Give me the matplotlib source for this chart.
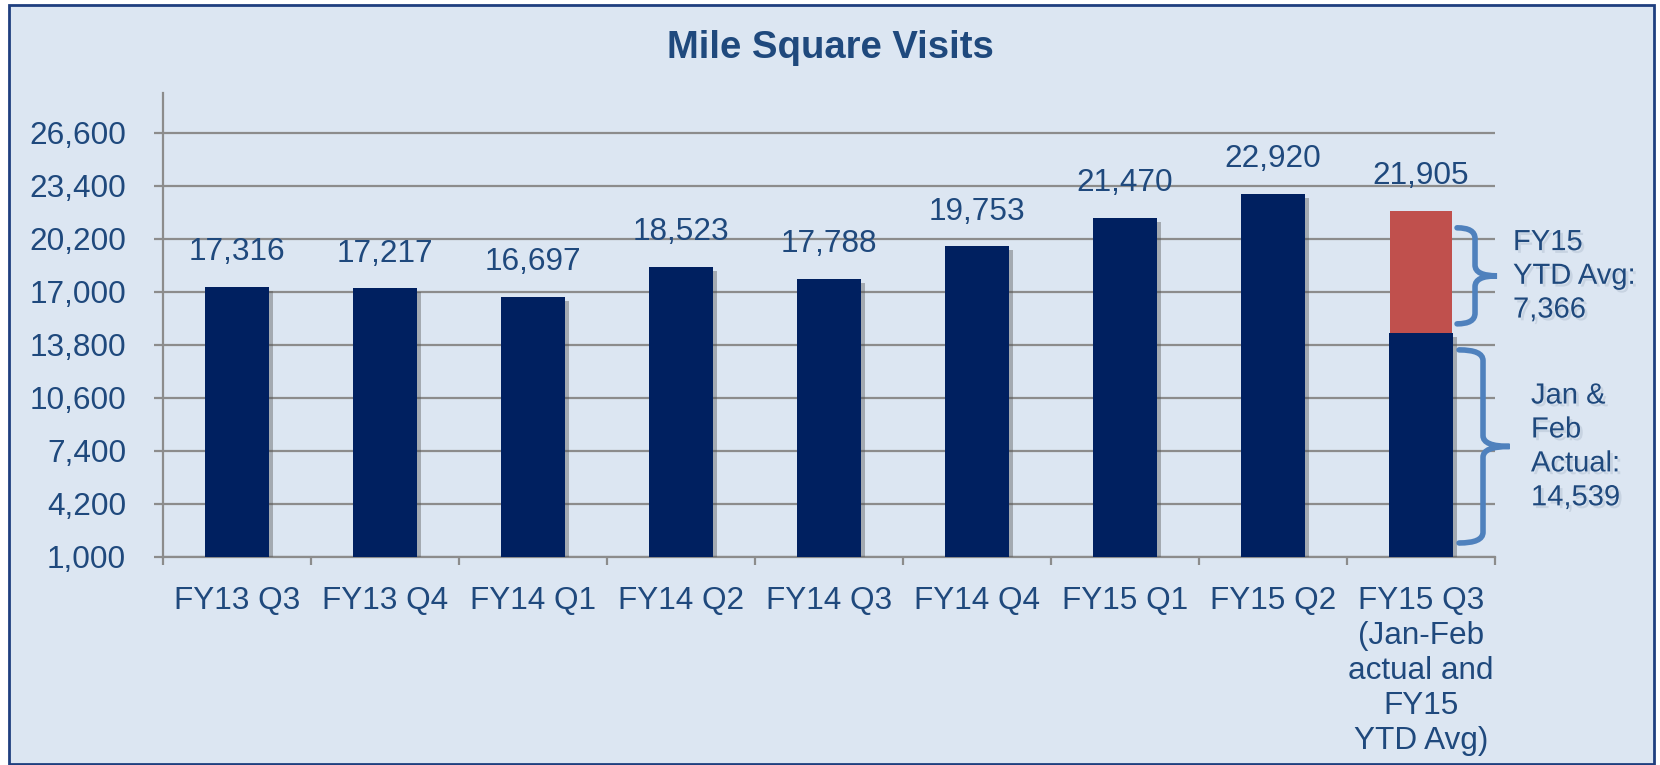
import matplotlib
matplotlib.use('Agg')
import matplotlib.pyplot as plt
import matplotlib.patheffects as pe
from matplotlib.patches import Rectangle, PathPatch
from matplotlib.path import Path
import matplotlib.transforms as mtransforms

plt.rcParams['font.family'] = ['Liberation Sans', 'DejaVu Sans']

categories = ['FY13 Q3', 'FY13 Q4', 'FY14 Q1', 'FY14 Q2', 'FY14 Q3', 'FY14 Q4',
              'FY15 Q1', 'FY15 Q2', 'FY15 Q3\n(Jan-Feb\nactual and\nFY15\nYTD Avg)']
visits = [17316, 17217, 16697, 18523, 17788, 19753, 21470, 22920, 14539]
ytd_avg = [0, 0, 0, 0, 0, 0, 0, 0, 7366]
totals = [17316, 17217, 16697, 18523, 17788, 19753, 21470, 22920, 21905]
yticks = [1000, 4200, 7400, 10600, 13800, 17000, 20200, 23400, 26600]

txt_col = '#1F497D'
navy = '#002060'
red = '#C0504D'
bg = '#DCE6F2'
grid_col = '#8C8C8C'
brace_col = '#4F81BD'

fig = plt.figure(figsize=(16.6, 7.65), dpi=100)
fig.patch.set_facecolor('white')
fig.patches.append(Rectangle((9/1660, 1/765), 1645/1660, 759/765, transform=fig.transFigure,
                             facecolor=bg, edgecolor='#1F3F7F', lw=2, zorder=-10))

ax = fig.add_axes([163/1660, 1-557/765, 1332/1660, 464/765])
ax.set_facecolor('none')

base = 1000
x = list(range(len(categories)))
shadow = [pe.SimplePatchShadow(offset=(3, -3), shadow_rgbFace='#505050', alpha=0.4), pe.Normal()]
b1 = ax.bar(x, [v - base for v in visits], bottom=base, width=0.43, color=navy, zorder=3)
b2 = ax.bar(x, ytd_avg, bottom=visits, width=0.42, color=red, zorder=2.9)
for p in list(b1) + list(b2):
    if p.get_height() > 0:
        p.set_path_effects(shadow)
b2[-1].set_path_effects([])

for xi, t in zip(x, totals):
    ax.annotate(f'{t:,}', (xi, t), xytext=(0, 19), textcoords='offset points',
                ha='center', va='baseline', fontsize=22.7, color=txt_col)

ax.set_xlim(-0.5, len(categories) - 0.5)
ax.set_ylim(1000, 29000)
ax.set_yticks(yticks)
ax.set_yticklabels([f'{v:,}' for v in yticks])
ax.yaxis.grid(True, color=grid_col, lw=1.6, zorder=1)
ax.set_axisbelow(True)

ax.set_xticks(x)
ax.set_xticklabels(categories, linespacing=1.22)
ax.set_xticks([i - 0.5 for i in range(len(categories) + 1)], minor=True)
ax.tick_params(axis='x', which='major', length=0, pad=21, labelsize=22.7, labelcolor=txt_col)
ax.tick_params(axis='x', which='minor', length=6, width=1.6, color=grid_col, direction='out')
ax.tick_params(axis='y', length=6.5, width=1.6, color=grid_col, pad=20, labelsize=22.7,
               labelcolor=txt_col)

for s in ['top', 'right']:
    ax.spines[s].set_visible(False)
for s in ['left', 'bottom']:
    ax.spines[s].set_color(grid_col)
    ax.spines[s].set_linewidth(1.6)

fig.text(0.5, 1-48/765, 'Mile Square Visits', ha='center', va='center',
         fontsize=27.5, fontweight='bold', color=txt_col)

trans = mtransforms.blended_transform_factory(ax.transAxes, ax.transData)


def brace(x0, xm, x1, y_bot, y_top, r=650):
    y_mid = (y_bot + y_top) / 2
    verts = [(x0, y_top), (xm, y_top), (xm, y_top - r),
             (xm, y_mid + r), (xm, y_mid), (x1, y_mid),
             (xm, y_mid), (xm, y_mid - r),
             (xm, y_bot + r), (xm, y_bot), (x0, y_bot)]
    codes = [Path.MOVETO, Path.CURVE3, Path.CURVE3,
             Path.LINETO, Path.CURVE3, Path.CURVE3,
             Path.CURVE3, Path.CURVE3,
             Path.LINETO, Path.CURVE3, Path.CURVE3]
    ax.add_patch(PathPatch(Path(verts, codes), transform=trans, facecolor='none',
                           edgecolor=brace_col, lw=4, clip_on=False, zorder=4,
                           capstyle='round'))
    return y_mid


txt_shadow = [pe.SimplePatchShadow(offset=(2, -2), shadow_rgbFace='#8090A8', alpha=0.22), pe.Normal()]

jf = visits[-1]
tot = totals[-1]
ym = brace(0.9715, 0.985, 1.0015, jf + 530, tot - 1040)
ax.text(1.0135, ym, 'FY15\nYTD Avg:\n7,366', transform=trans, ha='left', va='center',
        fontsize=21, color=txt_col, linespacing=1.26, path_effects=txt_shadow)
ym = brace(0.973, 0.991, 1.011, base + 845, jf - 1040)
ax.text(1.027, ym, 'Jan &\nFeb\nActual:\n14,539', transform=trans, ha='left', va='center',
        fontsize=21, color=txt_col, linespacing=1.27, path_effects=txt_shadow)

fig.savefig('out.png', dpi=100)
plt.close()
